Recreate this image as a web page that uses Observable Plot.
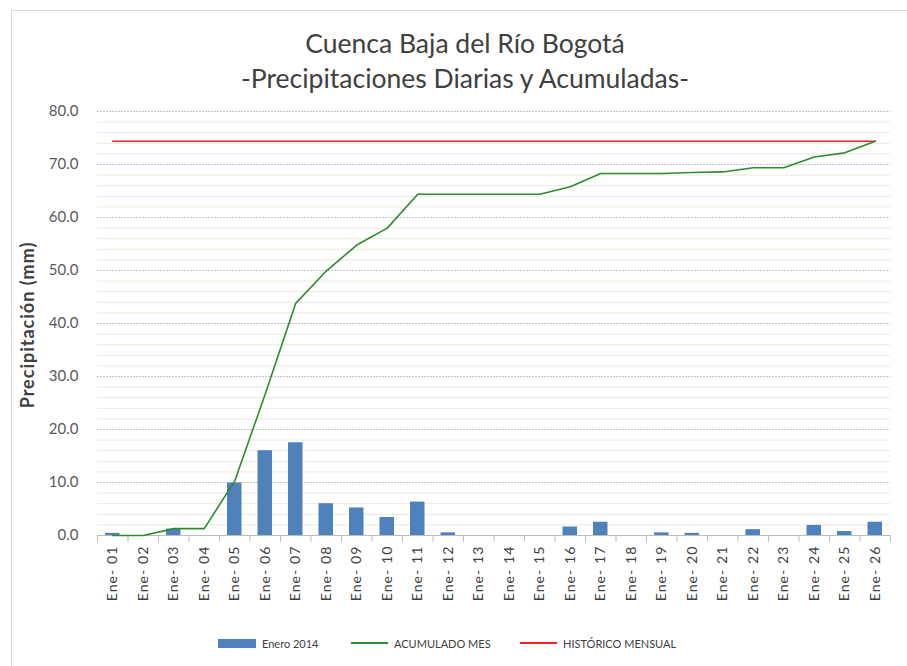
<!DOCTYPE html>
<html>
<head>
<meta charset="utf-8">
<script src="https://cdn.jsdelivr.net/npm/d3@7"></script>
<script src="https://cdn.jsdelivr.net/npm/@observablehq/plot@0.6"></script>
<style>
  html, body { margin: 0; padding: 0; background: #fff; }
  body { width: 907px; height: 666px; position: relative; overflow: hidden; font-family: Lato, "Open Sans", sans-serif; }
  #frame { position: absolute; left: 11px; top: 10px; width: 1000px; height: 1000px; border: 1px solid #d9d9d9; box-sizing: border-box; }
  #title { position: absolute; left: 0; top: 26px; width: 930px; text-align: center; font-size: 26.5px; line-height: 35px; color: #404040; }
  #chart { position: absolute; left: 0; top: 98px; }
  #legend { position: absolute; left: 0; top: 634px; width: 907px; height: 20px; font-size: 11px; color: #404040; }
  .li { position: absolute; top: 0; display: flex; align-items: center; height: 18px; }
  .sw { display: inline-block; margin-right: 6px; }
  g[aria-label="x-axis tick label"] text { letter-spacing: 1.1px; }
  g[aria-label="text"] text { letter-spacing: 1px; }
</style>
</head>
<body>
<div id="frame"></div>
<div id="title">Cuenca Baja del Río Bogotá<br>-Precipitaciones Diarias y Acumuladas-</div>
<div id="chart"></div>
<div id="legend">
  <div class="li" style="left:218px"><span class="sw" style="width:38px;height:9px;background:#4f81bd"></span>Enero 2014</div>
  <div class="li" style="left:351px"><span class="sw" style="width:37px;height:2px;background:#2e8b2e"></span>ACUMULADO MES</div>
  <div class="li" style="left:520px"><span class="sw" style="width:37px;height:2px;background:#ff2020"></span>HISTÓRICO MENSUAL</div>
</div>
<script>
const dias = ["Ene-01","Ene-02","Ene-03","Ene-04","Ene-05","Ene-06","Ene-07","Ene-08","Ene-09","Ene-10","Ene-11","Ene-12","Ene-13","Ene-14","Ene-15","Ene-16","Ene-17","Ene-18","Ene-19","Ene-20","Ene-21","Ene-22","Ene-23","Ene-24","Ene-25","Ene-26"];
const diaria = [0.4, 0, 1.2, 0, 9.9, 16.0, 17.5, 6.0, 5.2, 3.4, 6.3, 0.5, 0, 0, 0, 1.6, 2.5, 0, 0.5, 0.4, 0, 1.1, 0, 1.9, 0.75, 2.5];
const acumulado = [0, 0, 1.3, 1.3, 10.3, 26.7, 43.8, 49.9, 54.8, 58.0, 64.4, 64.4, 64.4, 64.4, 64.4, 65.8, 68.3, 68.3, 68.3, 68.5, 68.6, 69.4, 69.4, 71.4, 72.2, 74.4];
const historico = 74.4;
const yTicks = [0, 10, 20, 30, 40, 50, 60, 70, 80];

const rows = dias.map((d, i) => ({dia: d, diaria: diaria[i], acum: acumulado[i], hist: historico}));
const minor = d3.range(2, 80, 2).filter(v => v % 10 !== 0);
const major = yTicks.filter(v => v > 0);
const bw = (890 - 97) / dias.length / 2;

const chart = Plot.plot({
  width: 907,
  height: 522,
  marginTop: 13,
  marginBottom: 85,
  marginLeft: 97,
  marginRight: 17,
  style: {fontFamily: "Lato, 'Open Sans', sans-serif", background: "transparent", overflow: "visible"},
  x: {domain: dias, padding: 0, round: false, label: null},
  y: {domain: [0, 80], label: null},
  marks: [
    Plot.ruleY(minor, {stroke: "#ece8da", strokeWidth: 1}),
    Plot.ruleY(major, {stroke: "#c4c4c4", strokeWidth: 1, strokeDasharray: "2,1"}),
    Plot.barY(rows, {x: "dia", y: "diaria", fill: "#4f81bd", insetLeft: 8, insetRight: 8}),
    Plot.ruleY([0], {stroke: "#bcbcbc", strokeWidth: 1}),
    Plot.ruleX(rows, {x: "dia", dx: -bw, y1: 0, y2: -1.3, stroke: "#bcbcbc"}),
    Plot.ruleX([dias[dias.length - 1]], {x: d => d, dx: bw, y1: 0, y2: -1.3, stroke: "#bcbcbc"}),
    Plot.lineY(rows, {x: "dia", y: "hist", stroke: "#ff2020", strokeWidth: 1.6}),
    Plot.lineY(rows, {x: "dia", y: "acum", stroke: "#2e8b2e", strokeWidth: 1.6}),
    Plot.axisY({ticks: yTicks, tickFormat: d3.format(".1f"), tickSize: 0, tickPadding: 19, fontSize: 15, fill: "#595959", label: null}),
    Plot.axisX({tickSize: 0, tickPadding: 10, tickRotate: -90, fontSize: 14, fill: "#404040", label: null, tickFormat: d => d.replace("-", "- ")}),
    Plot.text(["Precipitación (mm)"], {frameAnchor: "left", textAnchor: "middle", dx: -69, dy: 1.5, rotate: -90, fontSize: 18, fontWeight: "bold", fill: "#404040"})
  ]
});
document.getElementById("chart").append(chart);
</script>
</body>
</html>
